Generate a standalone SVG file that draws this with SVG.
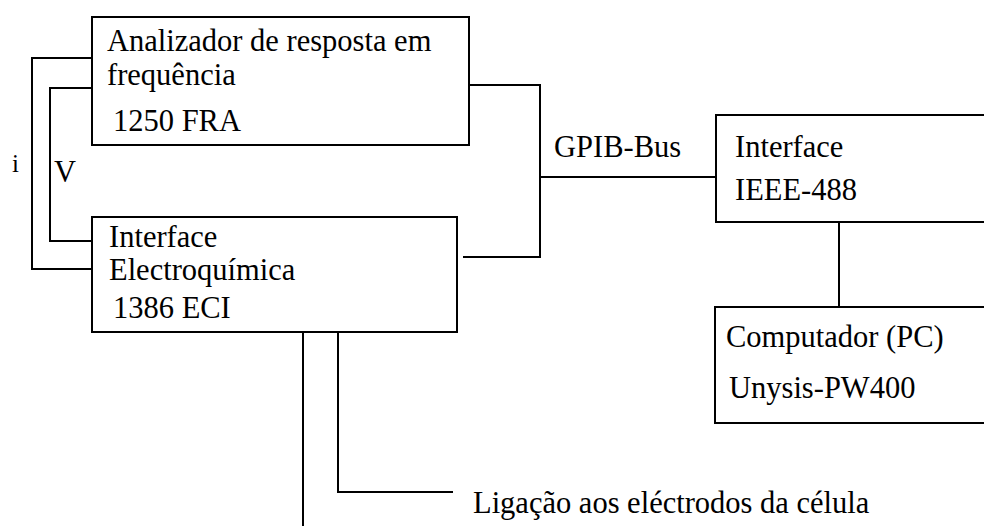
<svg xmlns="http://www.w3.org/2000/svg" width="984" height="526" viewBox="0 0 984 526">
<style>
.box{fill:#fff;stroke:#000;stroke-width:2}
.w{fill:none;stroke:#000;stroke-width:2}
.t{font-family:'Liberation Serif','Times New Roman',serif;font-size:30.5px;fill:#000}
</style>
<rect width="984" height="526" fill="#fff"/>
<g id="connectors">
<path class="w" d="M92,58 H32 V269 H92"/>
<path class="w" d="M92,88 H50 V241 H92"/>
<path class="w" d="M469,85 H540 V257 H463"/>
<path class="w" d="M540,177 H716"/>
<path class="w" d="M839,222 V307"/>
<path class="w" d="M303,332 V526"/>
<path class="w" d="M338,332 V492 H453"/>
<text class="t" x="12" y="172" style="font-size:25px">i</text>
<text class="t" x="54" y="182">V</text>
<text class="t" x="554" y="157">GPIB-Bus</text>
<text class="t" x="473" y="513">Ligação aos eléctrodos da célula</text>
</g>
<g id="fra">
<rect class="box" x="92" y="17" width="377" height="128"/>
<text class="t" x="107" y="51">Analizador de resposta em</text>
<text class="t" x="107" y="85">frequência</text>
<text class="t" x="113" y="131">1250 FRA</text>
</g>
<g id="eci">
<rect class="box" x="92" y="217" width="365" height="115"/>
<text class="t" x="109" y="247">Interface</text>
<text class="t" x="109" y="280">Electroquímica</text>
<text class="t" x="113" y="318">1386 ECI</text>
</g>
<g id="ieee">
<rect class="box" x="716" y="115" width="280" height="107"/>
<text class="t" x="735" y="157">Interface</text>
<text class="t" x="735" y="200">IEEE-488</text>
</g>
<g id="pc">
<rect class="box" x="715" y="307" width="280" height="116"/>
<text class="t" x="726" y="347">Computador (PC)</text>
<text class="t" x="729" y="398">Unysis-PW400</text>
</g>
</svg>
